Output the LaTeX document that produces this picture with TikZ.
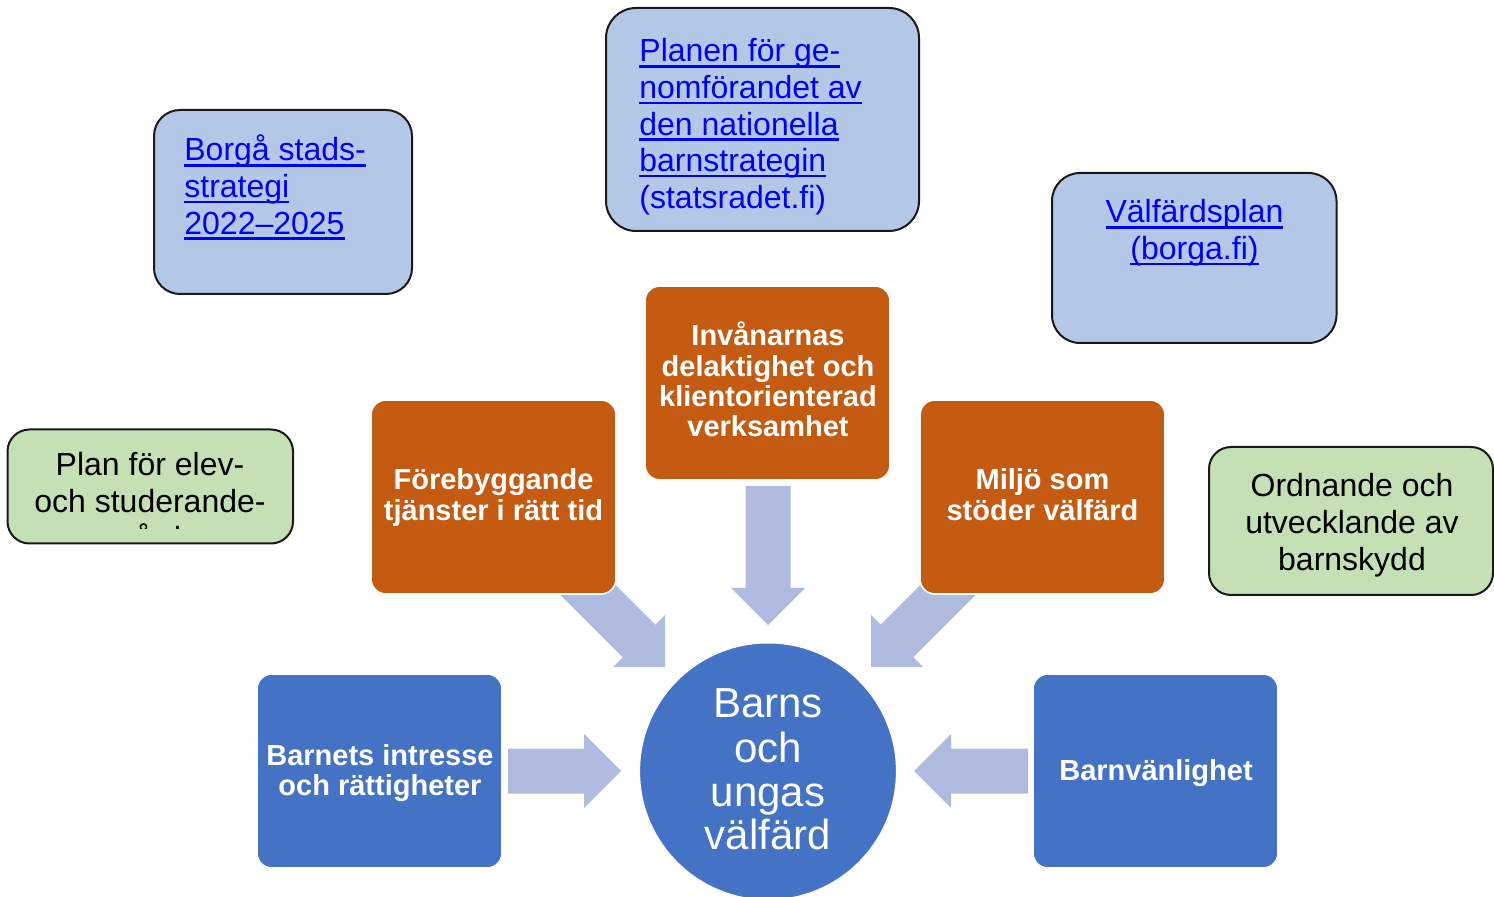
\documentclass[tikz,border=0pt]{standalone}
\usepackage{fontspec}
\setmainfont{Liberation Sans}
\definecolor{lblue}{RGB}{180,199,231}
\definecolor{lgreen}{RGB}{197,224,180}
\definecolor{orng}{RGB}{197,90,17}
\definecolor{mblue}{RGB}{68,114,196}
\definecolor{arw}{RGB}{174,187,222}
\definecolor{lnk}{RGB}{0,0,255}
\newcommand\lnkul[1]{\setbox0=\hbox{#1}\rlap{\vrule width\wd0 height -0.1em depth 0.175em}\box0}
\tikzset{
  refbox/.style={draw=black!90, line width=1pt, fill=lblue, rounded corners=13pt, inner sep=0pt},
  greenbox/.style={draw=black!90, line width=1pt, fill=lgreen, rounded corners=11pt, inner sep=0pt},
  solidbox/.style={draw=white, line width=0.8pt, rounded corners=7.5pt, minimum width=122.5pt, minimum height=97pt, inner sep=0pt},
  orbox/.style={solidbox, fill=orng},
  blbox/.style={solidbox, fill=mblue},
  blockarrow/.style={fill=arw, draw=none},
  linktxt/.style={inner sep=0pt, text=lnk, font=\fontsize{16}{18.3}\selectfont},
  plaintxt/.style={inner sep=0pt, text=black, font=\fontsize{16}{18.5}\selectfont},
  boldtxt/.style={inner sep=0pt, text=white, font=\bfseries\fontsize{14.5}{15}\selectfont},
  circtxt/.style={inner sep=0pt, text=white, font=\fontsize{21}{22}\selectfont},
}
\begin{document}
\begin{tikzpicture}[x=0.5pt,y=-0.5pt]
\useasboundingbox (0,0) rectangle (1494,897);
% block arrows
\fill[blockarrow] (745.5,486) -- (790.5,486) -- (790.5,588) -- (805,588) -- (768,625) -- (731,588) -- (745.5,588) -- cycle;
\fill[blockarrow] (585.3,554.7) -- (655.3,624.7) -- (665,615) -- (665,667) -- (613,667) -- (622.7,657.3) -- (552.7,587.3) -- cycle;
\fill[blockarrow] (950.7,554.7) -- (880.7,624.7) -- (871,615) -- (871,667) -- (923,667) -- (913.3,657.3) -- (983.3,587.3) -- cycle;
\fill[blockarrow] (508,748.5) -- (584,748.5) -- (584,734) -- (621,771) -- (584,808) -- (584,793.5) -- (508,793.5) -- cycle;
\fill[blockarrow] (1028,748.5) -- (951,748.5) -- (951,734) -- (914,771) -- (951,808) -- (951,793.5) -- (1028,793.5) -- cycle;
% reference boxes
\node[refbox, minimum width=129pt, minimum height=92pt] (borga) at (283,202) {};
\node[refbox, rounded corners=15pt, minimum width=156.5pt, minimum height=111.5pt] (plan) at (762.5,119.5) {};
\node[refbox, rounded corners=14pt, minimum width=142.25pt, minimum height=85pt] (valf) at (1194.25,258) {};
\node[greenbox, minimum width=142.75pt, minimum height=57pt] (elev) at (150.25,486.5) {};
\node[greenbox, minimum width=142pt, minimum height=74pt] (ordn) at (1351,521) {};
\node[linktxt, anchor=base west] (borgatxt) at (184,161)
  {\begin{tabular}[t]{@{}l@{}}\lnkul{Borgå stads-}\\ \lnkul{strategi}\\ \lnkul{2022–2025}\end{tabular}};
\node[linktxt, anchor=base west] (plantxt) at (639,62)
  {\begin{tabular}[t]{@{}l@{}}\lnkul{Planen för ge-}\\ \lnkul{nomförandet av}\\ \lnkul{den nationella}\\ \lnkul{barnstrategin}\\ (statsradet.fi)\end{tabular}};
\node[linktxt, anchor=base] (valftxt) at (1194.5,223)
  {\begin{tabular}[t]{@{}c@{}}\lnkul{Välfärdsplan}\\ \lnkul{(borga.fi)}\end{tabular}};
\begin{scope}
\clip (9,431) rectangle (291,528.3);
\node[plaintxt, anchor=base] (elevtxt) at (150,476)
  {\begin{tabular}[t]{@{}c@{}}Plan för elev-\\ och studerande-\\ vård\end{tabular}};
\end{scope}
\node[plaintxt, anchor=base] (ordntxt) at (1352,497)
  {\begin{tabular}[t]{@{}c@{}}Ordnande och\\ utvecklande av\\ barnskydd\end{tabular}};
% focus areas
\node[orbox] (delak) at (767.5,383) {};
\node[orbox] (foreb) at (493.5,497) {};
\node[orbox] (miljo) at (1042.5,497) {};
\node[blbox] (barnint) at (379.5,771) {};
\node[blbox] (barnvan) at (1155.5,771) {};
\node[boldtxt, anchor=base] (delaktxt) at (768,346)
  {\begin{tabular}[t]{@{}c@{}}Invånarnas\\ delaktighet och\\ klientorienterad\\ verksamhet\end{tabular}};
\node[boldtxt, anchor=base] (forebtxt) at (493.5,490)
  {\begin{tabular}[t]{@{}c@{}}Förebyggande\\ tjänster i rätt tid\end{tabular}};
\node[boldtxt, anchor=base] (miljotxt) at (1042.5,490)
  {\begin{tabular}[t]{@{}c@{}}Miljö som\\ stöder välfärd\end{tabular}};
\node[boldtxt, anchor=base] (barninttxt) at (380,765)
  {\begin{tabular}[t]{@{}c@{}}Barnets intresse\\ och rättigheter\end{tabular}};
\node[boldtxt, anchor=base] (barnvantxt) at (1156,780) {Barnvänlighet};
% centre
\node[circle, fill=mblue, draw=white, line width=0.8pt, minimum size=128.7pt, inner sep=0pt] (centre) at (768,771.4) {};
\node[circtxt, anchor=base] (centretxt) at (768,718)
  {\begin{tabular}[t]{@{}c@{}}Barns\\ och\\ ungas\\ välfärd\end{tabular}};
\end{tikzpicture}
\end{document}
